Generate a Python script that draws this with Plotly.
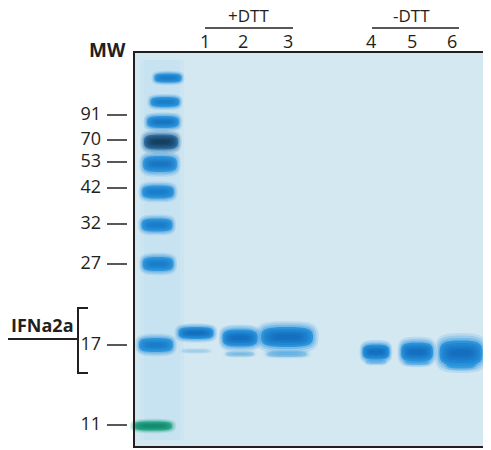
import plotly.graph_objects as go

# molecular weight ladder (kDa) - labels and where they sit
mw_labels = ["91", "70", "53", "42", "32", "27", "17", "11"]
mw_label_y = [115, 140, 162, 188, 224, 264, 345, 425]

# ladder bands (lane 0), top to bottom
ladder_x = [168, 165, 163, 161, 160, 158, 157, 158, 156, 153]
ladder_y = [78, 102, 122, 142, 164, 192, 225, 264, 345, 426]
ladder_w = [27, 29, 32, 34, 34, 32, 31, 31, 34, 38]
ladder_h = [9, 10, 12, 15, 16, 13, 13, 14, 14, 9]
ladder_core = ["#0f72c2", "#0f72c2", "#0d68b8", "#0c2a44", "#0f66b8", "#0f72c2",
               "#0f72c2", "#0f72c2", "#0f72c2", "#0a8060"]
ladder_edge = ["#2a93dc", "#2a93dc", "#2a93dc", "#23669c", "#2a93dc", "#2a93dc",
               "#2a93dc", "#2a93dc", "#2a93dc", "#22a585"]

# IFNa2a sample lanes
lane_names = ["1", "2", "3", "4", "5", "6"]
lane_label_x = [205, 243, 288, 371, 412, 452]
lane_x = [196, 240, 287, 376, 417, 461]
band_y = [333, 338, 337, 352, 352, 353]
band_w = [35, 35, 52, 27, 32, 43]
band_h = [12, 17, 20, 15, 19, 25]
# faint lower species
faint_y = [351, 354, 354, 362, 362, 364]
faint_w = [28, 28, 40, 20, 24, 28]
faint_h = [4, 5, 6, 5, 6, 9]
faint_a = [0.15, 0.3, 0.4, 0.25, 0.35, 0.75]

groups = ["+DTT", "-DTT"]
group_x = [248, 411]
group_span = [(205, 293), (372, 459)]

INK = "#231f20"
FONT = "Open Sans"

fig = go.Figure()

shapes = []
# gel body
shapes.append(dict(type="rect", x0=134, x1=489, y0=52, y1=447,
                   fillcolor="#d4e8f2", line=dict(width=0)))
# ladder lane smear
for x0, x1 in [(140, 184), (144, 180)]:
    shapes.append(dict(type="rect", x0=x0, x1=x1, y0=60, y1=440,
                       fillcolor="rgba(80,160,225,0.045)", line=dict(width=0)))


def blob(x, y, w, h, k=0.82):
    hw, hh = w / 2, h / 2
    return ("M {a},{y} C {a},{t1} {l1},{t} {x},{t} C {r1},{t} {b},{t1} {b},{y} "
            "C {b},{b1} {r1},{bo} {x},{bo} C {l1},{bo} {a},{b1} {a},{y} Z").format(
        a=x - hw, b=x + hw, x=x, y=y, t=y - hh, bo=y + hh,
        t1=y - k * hh, b1=y + k * hh, l1=x - k * hw, r1=x + k * hw)


def band(x, y, w, h, edge, core, alpha=1.0):
    layers = [(1.22, 1.6, edge, 0.15), (1.14, 1.4, edge, 0.2), (1.07, 1.2, edge, 0.3),
              (1.0, 1.0, edge, 0.9), (0.9, 0.8, core, 0.25), (0.78, 0.6, core, 0.25),
              (0.64, 0.42, core, 0.25), (0.48, 0.26, core, 0.25)]
    for sw, sh, c, a in layers:
        shapes.append(dict(type="path", path=blob(x, y, w * sw, h * sh),
                           fillcolor=c, opacity=a * alpha, line=dict(width=0)))


for i in range(len(ladder_y)):
    band(ladder_x[i], ladder_y[i], ladder_w[i], ladder_h[i], ladder_edge[i], ladder_core[i])

for i in range(len(lane_x)):
    band(lane_x[i], faint_y[i], faint_w[i], faint_h[i], "#3fa3e2", "#2f95da", faint_a[i])
    band(lane_x[i], band_y[i], band_w[i], band_h[i], "#2290dc", "#0b60b5")

# gel frame
shapes.append(dict(type="rect", x0=134, x1=489, y0=52, y1=447,
                   line=dict(color=INK, width=2)))

# MW tick dashes
for y in mw_label_y:
    shapes.append(dict(type="line", x0=107, x1=127, y0=y, y1=y,
                       line=dict(color=INK, width=1.5)))

# group header lines
for x0, x1 in group_span:
    shapes.append(dict(type="line", x0=x0, x1=x1, y0=28, y1=28,
                       line=dict(color=INK, width=1.5)))

# IFNa2a pointer and bracket
shapes.append(dict(type="line", x0=0, x1=78, y0=339, y1=339, line=dict(color=INK, width=2)))
shapes.append(dict(type="path", path="M 88 308 L 78 308 L 78 373 L 88 373",
                   line=dict(color=INK, width=2)))

fig.add_trace(go.Scatter(
    x=[101] * len(mw_labels), y=mw_label_y, text=mw_labels,
    mode="text", textposition="middle left",
    textfont=dict(family=FONT, size=18, color=INK),
    hoverinfo="skip", showlegend=False
))

annotations = []
for name, x in zip(lane_names, lane_label_x):
    annotations.append(dict(x=x, y=41, text=name, showarrow=False,
                            font=dict(family=FONT, size=18, color=INK)))
# header text sits right at the top of the page
for name, x in zip(groups, group_x):
    annotations.append(dict(x=x, y=15, text=name, showarrow=False, borderpad=0,
                            font=dict(family=FONT, size=17, color=INK)))
annotations.append(dict(x=128, y=50, text="<b>MW</b>", showarrow=False, xanchor="right",
                        font=dict(family=FONT, size=19, color=INK)))
# page body margin hides the first 8px, so the label starts just inside
annotations.append(dict(x=9, y=325, text="<b>IFNa2a</b>", showarrow=False, xanchor="left",
                        font=dict(family=FONT, size=18, color=INK)))

# the html body adds an 8px margin: offset the ranges so page pixel == data unit
fig.update_layout(
    width=491, height=450,
    margin=dict(l=0, r=0, t=0, b=0),
    paper_bgcolor="white", plot_bgcolor="white",
    xaxis=dict(range=[8, 499], visible=False, fixedrange=True),
    yaxis=dict(range=[458, 8], visible=False, fixedrange=True),
    shapes=shapes, annotations=annotations,
    showlegend=False
)

fig.write_html("out.html")
